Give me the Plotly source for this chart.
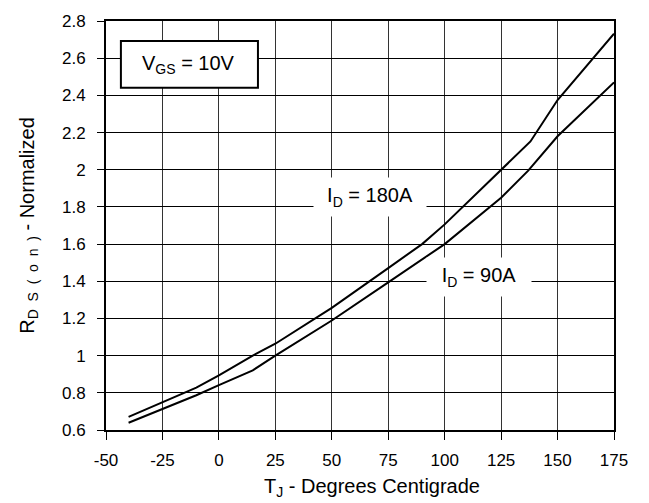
import plotly.graph_objects as go

# Data
temp_180 = [-40, -25, -10, 0, 15, 25, 50, 75, 90, 100, 125, 138, 150, 175]
rds_180 = [0.671, 0.748, 0.828, 0.894, 1.0, 1.064, 1.257, 1.471, 1.60, 1.706, 2.0, 2.152, 2.375, 2.732]

temp_90 = [-40, -25, -10, 0, 15, 25, 50, 75, 100, 125, 137, 150, 175]
rds_90 = [0.639, 0.711, 0.787, 0.841, 0.921, 1.0, 1.189, 1.394, 1.6, 1.849, 1.995, 2.18, 2.47]

x_ticks = [-50, -25, 0, 25, 50, 75, 100, 125, 150, 175]
x_tick_labels = ["-50", "-25", "0", "25", "50", "75", "100", "125", "150", "175"]
y_ticks = [0.6, 0.8, 1, 1.2, 1.4, 1.6, 1.8, 2, 2.2, 2.4, 2.6, 2.8]
y_tick_labels = ["0.6", "0.8", "1", "1.2", "1.4", "1.6", "1.8", "2", "2.2", "2.4", "2.6", "2.8"]

FONT = "Liberation Sans, Arial, sans-serif"
NB = "\u00a0"

fig = go.Figure()
fig.add_trace(go.Scatter(x=temp_180, y=rds_180, mode="lines",
                         line=dict(color="black", width=2), name="ID = 180A",
                         showlegend=False))
fig.add_trace(go.Scatter(x=temp_90, y=rds_90, mode="lines",
                         line=dict(color="black", width=2), name="ID = 90A",
                         showlegend=False))

# V_GS box
fig.add_shape(type="rect", xref="x", yref="y", x0=-43.4, x1=17.3, y0=2.441, y1=2.693,
              line=dict(color="black", width=2), fillcolor="white", layer="above")
fig.add_annotation(x=-13.5, y=2.565, xref="x", yref="y", showarrow=False,
                   text="V<sub>GS</sub> = 10V", font=dict(family=FONT, size=20, color="black"),
                   xanchor="center", yanchor="middle")

fig.add_annotation(x=67, y=1.853, xref="x", yref="y", showarrow=False,
                   text="I<sub>D</sub> = 180A", font=dict(family=FONT, size=20, color="black"),
                   bgcolor="white", width=110, height=36, xanchor="center", yanchor="middle")
fig.add_annotation(x=115, y=1.425, xref="x", yref="y", showarrow=False,
                   text="I<sub>D</sub> = 90A", font=dict(family=FONT, size=20, color="black"),
                   bgcolor="white", width=102, height=36, xanchor="center", yanchor="middle")

# x-axis title (slightly right of centre, as in the reference)
fig.add_annotation(x=0.524, y=0, xref="paper", yref="paper", yshift=-57,
                   showarrow=False, xanchor="center", yanchor="middle",
                   text="T<sub>J</sub> - Degrees Centigrade",
                   font=dict(family=FONT, size=20, color="black"))

fig.update_layout(
    width=649, height=503,
    margin=dict(l=106, r=35, t=19, b=73),
    paper_bgcolor="white", plot_bgcolor="white",
    font=dict(family=FONT, size=17, color="black"),
)
fig.update_xaxes(
    range=[-50, 175], tickvals=x_ticks, ticktext=x_tick_labels,
    ticks="outside", ticklen=8, tickcolor="black", ticklabelstandoff=6,
    showgrid=True, gridcolor="#333", gridwidth=1,
    showline=True, linecolor="black", linewidth=2, mirror=True, zeroline=False,
    tickfont=dict(size=17),
)
sub = NB.join(list("DS(on)")).replace("(", " (").replace(")", ") ").strip()
fig.update_yaxes(
    range=[0.6, 2.8], tickvals=y_ticks, ticktext=y_tick_labels,
    ticks="outside", ticklen=7, tickcolor="black", ticklabelstandoff=8,
    showgrid=True, gridcolor="black", gridwidth=1,
    showline=True, linecolor="black", linewidth=2, mirror=True, zeroline=False,
    title=dict(text="R<sub>" + NB.join(["D", "S", "(", "o", "n", ")"]).replace(NB, " " + NB) + "</sub> - Normalized",
               font=dict(size=20), standoff=22),
    tickfont=dict(size=17),
)

fig.write_html(
    "out.html",
    config={"displayModeBar": False},
    post_script="document.body.style.margin='0';document.documentElement.style.overflow='hidden';",
)
